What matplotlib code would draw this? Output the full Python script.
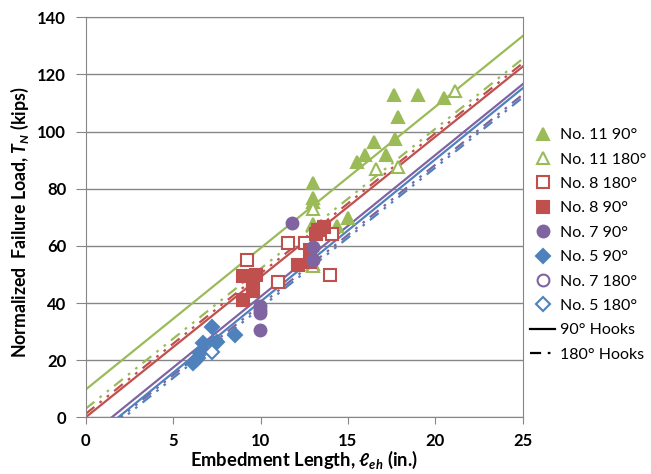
import numpy as np
import matplotlib
matplotlib.use("Agg")
import matplotlib.pyplot as plt
from matplotlib.lines import Line2D

plt.rcParams['font.family'] = ['Lato', 'DejaVu Sans']
plt.rcParams['mathtext.fontset'] = 'custom'
plt.rcParams['mathtext.it'] = 'Lato:italic:bold'
plt.rcParams['mathtext.rm'] = 'Lato:bold'

# data
n11_90_x = [13.0, 13.0, 13.0, 13.0, 13.0, 14.4, 15.0, 15.5, 16.0, 16.5, 17.2, 17.7, 17.85, 17.65, 19.0, 20.5]
n11_90_y = [53.5, 67.5, 75.5, 76.6, 82.1, 66.9, 69.8, 89.5, 91.7, 96.5, 91.7, 97.3, 105.1, 112.7, 112.7, 111.6]
n11_180_x = [13.0, 13.0, 16.6, 17.85, 21.1]
n11_180_y = [53.0, 73.0, 86.8, 87.7, 114.3]
n8_180_x = [9.2, 11.0, 11.6, 12.55, 13.98, 14.1]
n8_180_y = [54.9, 47.4, 61.0, 61.0, 49.7, 64.3]
n8_90_x = [8.98, 8.98, 9.59, 9.59, 9.74, 12.13, 12.83, 12.83, 13.2, 13.3, 13.65]
n8_90_y = [41.2, 49.3, 44.1, 45.8, 49.7, 53.2, 54.3, 58.7, 64.0, 65.7, 66.7]
n7_90_x = [9.97, 9.97, 9.97, 9.97, 11.8, 12.99, 12.99]
n7_90_y = [30.6, 36.5, 37.6, 39.0, 68.1, 55.2, 59.6]
n5_90_x = [6.15, 6.3, 6.44, 6.54, 6.73, 7.3, 7.5, 7.21, 8.54]
n5_90_y = [18.9, 20.0, 20.7, 22.5, 26.0, 26.0, 26.5, 31.6, 28.9]
n7_180_x = []
n7_180_y = []
n5_180_x = [7.25]
n5_180_y = [23.0]

# trend lines: T = slope * l + intercept
line_names = ['11-90', '11-180', '8-90', '8-180', '7-90', '7-180', '5-90', '5-180']
line_slope = [4.95, 4.90, 4.91, 4.91, 4.96, 4.91, 4.98, 4.91]
line_icept = [9.7, 3.0, 0.0, 1.2, -7.4, -9.8, -9.3, -10.8]

green = '#9BBB59'
red = '#C0504D'
purple = '#8064A2'
blue = '#4F81BD'
line_cols = [green, green, red, red, purple, purple, blue, blue]
dashdotdot = (0, (5, 3, 1.2, 3, 1.2, 3))

fig = plt.figure(figsize=(6.51, 4.74), dpi=100)
ax = fig.add_axes([0.1316, 0.1196, 0.6714, 0.8439])

xs = np.array([0, 25])
for name, m, b, c in zip(line_names, line_slope, line_icept, line_cols):
    ls = '-' if name.endswith('-90') else dashdotdot
    ax.plot(xs, m * xs + b, color=c, lw=1.6, ls=ls, zorder=2)

ms = 8.5
series = [
    (n11_90_x, n11_90_y, '^', green, True, 'No. 11 90°'),
    (n11_180_x, n11_180_y, '^', green, False, 'No. 11 180°'),
    (n8_180_x, n8_180_y, 's', red, False, 'No. 8 180°'),
    (n8_90_x, n8_90_y, 's', red, True, 'No. 8 90°'),
    (n7_90_x, n7_90_y, 'o', purple, True, 'No. 7 90°'),
    (n5_90_x, n5_90_y, 'D', blue, True, 'No. 5 90°'),
    (n7_180_x, n7_180_y, 'o', purple, False, 'No. 7 180°'),
    (n5_180_x, n5_180_y, 'D', blue, False, 'No. 5 180°'),
]
handles = []
for x, y, mk, c, filled, lab in series:
    size = ms - 1.5 if mk == 'D' else ms
    h, = ax.plot(x, y, ls='none', marker=mk, ms=size, mfc=c if filled else 'white',
                 mec=c, mew=1.5, label=lab, zorder=3)
    handles.append(h)

handles.append(Line2D([], [], color='black', lw=1.6, ls='-', label='90° Hooks'))
handles.append(Line2D([], [], color='black', lw=1.6, ls=dashdotdot, label='180° Hooks'))

ax.set_xlim(0, 25)
ax.set_ylim(0, 140)
ax.set_xticks(range(0, 26, 5))
ax.set_yticks(range(0, 141, 20))
ax.grid(axis='y', color='#868686', lw=1)
ax.set_axisbelow(True)
for s in ax.spines.values():
    s.set_color('#868686')
ax.tick_params(axis='x', direction='out', length=5, color='#868686', pad=6,
               labelsize=12)
ax.tick_params(axis='y', direction='out', length=7, color='#868686', pad=7,
               labelsize=12)
for lab in ax.get_xticklabels() + ax.get_yticklabels():
    lab.set_fontweight('bold')

ax.set_xlabel(r'Embedment Length, $\ell_{eh}$ (in.)', fontsize=13.2, fontweight='bold')
ax.set_ylabel(r'Normalized  Failure Load, $T_N$ (kips)', fontsize=12.8, fontweight='bold')
ax.xaxis.set_label_coords(0.5, -0.08)
ax.yaxis.set_label_coords(-0.125, 0.487)

fig.legend(handles=handles, loc='upper left', bbox_to_anchor=(0.814, 0.73),
           frameon=False, fontsize=11.5, handlelength=1.6, handletextpad=0.3,
           labelspacing=0.64, borderpad=0, borderaxespad=0)

fig.savefig('out.png', dpi=100)
